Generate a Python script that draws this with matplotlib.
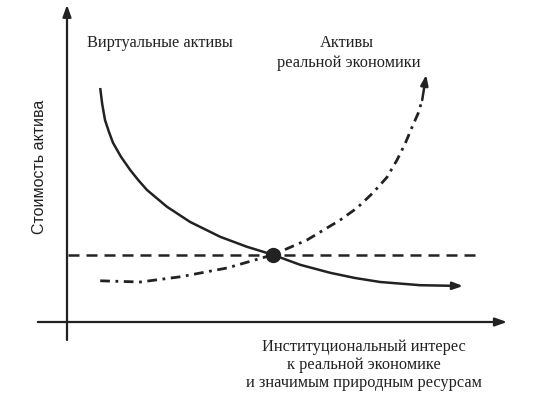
import matplotlib
matplotlib.use("Agg")
import matplotlib.pyplot as plt

# кривая "Виртуальные активы" (условные единицы, начало координат в пересечении осей)
virt_x = [0.83, 0.88, 0.95, 1.05, 1.15, 1.35, 1.58, 1.78, 2.0, 2.5, 3.08, 3.83, 4.5, 5.15,
          5.83, 6.58, 7.2, 7.83, 8.83, 9.9]
virt_y = [5.85, 5.45, 5.05, 4.75, 4.48, 4.13, 3.8, 3.55, 3.3, 2.88, 2.5, 2.13, 1.88, 1.68,
          1.43, 1.23, 1.1, 1.0, 0.92, 0.9]

# кривая "Активы реальной экономики"
real_x = [0.83, 1.83, 2.83, 4.0, 5.15, 6.0, 6.83, 7.25, 7.65, 8.0, 8.25, 8.45, 8.63, 8.78, 8.88, 8.98]
real_y = [1.03, 1.0, 1.13, 1.35, 1.68, 2.05, 2.55, 2.85, 3.23, 3.62, 4.05, 4.45, 4.88, 5.22, 5.55, 6.18]

# уровень равновесия
level_x = [0.03, 10.33]
level_y = 1.68
point = (5.15, 1.68)

fig = plt.figure(figsize=(5.5, 3.98), dpi=100)
ax = fig.add_axes([0, 0, 1, 1])
ax.set_xlim(-1.675, 12.075)
ax.set_ylim(-1.9, 8.05)
ax.axis('off')

ink = '#222222'
serif = 'Liberation Serif'
fs = 11.8

# оси
ax.annotate('', xy=(11.0, 0), xytext=(-0.73, 0),
            arrowprops=dict(arrowstyle='-|>,head_length=0.7,head_width=0.25', color=ink, lw=1.6,
                            shrinkA=0, shrinkB=0))
ax.annotate('', xy=(0, 7.93), xytext=(0, -0.45),
            arrowprops=dict(arrowstyle='-|>,head_length=0.7,head_width=0.25', color=ink, lw=1.6,
                            shrinkA=0, shrinkB=0))

# кривые
ax.plot(virt_x[:-1], virt_y[:-1], color=ink, lw=1.8, solid_capstyle='butt', solid_joinstyle='round')
ax.annotate('', xy=(virt_x[-1], virt_y[-1]), xytext=(virt_x[-2], virt_y[-2]),
            arrowprops=dict(arrowstyle='-|>,head_length=0.6,head_width=0.22', color=ink, lw=1.8,
                            shrinkA=0, shrinkB=0))

ax.plot(real_x[:-1], real_y[:-1], color=ink, lw=2.0, dashes=(3.5, 2.0, 1.0, 2.0))
ax.annotate('', xy=(real_x[-1], real_y[-1]), xytext=(real_x[-2], real_y[-2]),
            arrowprops=dict(arrowstyle='-|>,head_length=0.6,head_width=0.22', color=ink, lw=1.8,
                            shrinkA=0, shrinkB=0))

ax.plot(level_x, [level_y, level_y], color=ink, lw=1.8, dashes=(4.4, 2.8))
ax.plot(*point, 'o', color=ink, markersize=10)

# подписи
ax.text(2.33, 6.98, 'Виртуальные активы', fontsize=fs, family=serif, color=ink,
        ha='center', va='center')
ax.text(7.0, 6.98, 'Активы', fontsize=fs, family=serif, color=ink, ha='center', va='center')
ax.text(7.05, 6.48, 'реальной экономики', fontsize=fs, family=serif, color=ink,
        ha='center', va='center')
ax.text(7.43, -0.63, 'Институциональный интерес', fontsize=fs, family=serif, color=ink,
        ha='center', va='center')
ax.text(7.43, -1.08, 'к реальной экономике', fontsize=fs, family=serif, color=ink,
        ha='center', va='center')
ax.text(7.43, -1.53, 'и значимым природным ресурсам', fontsize=fs, family=serif, color=ink,
        ha='center', va='center')
ax.text(-0.68, 3.88, 'Стоимость актива', fontsize=11.5, family='Liberation Sans', color=ink,
        rotation=90, ha='center', va='center')

fig.savefig('out.png', dpi=100)
